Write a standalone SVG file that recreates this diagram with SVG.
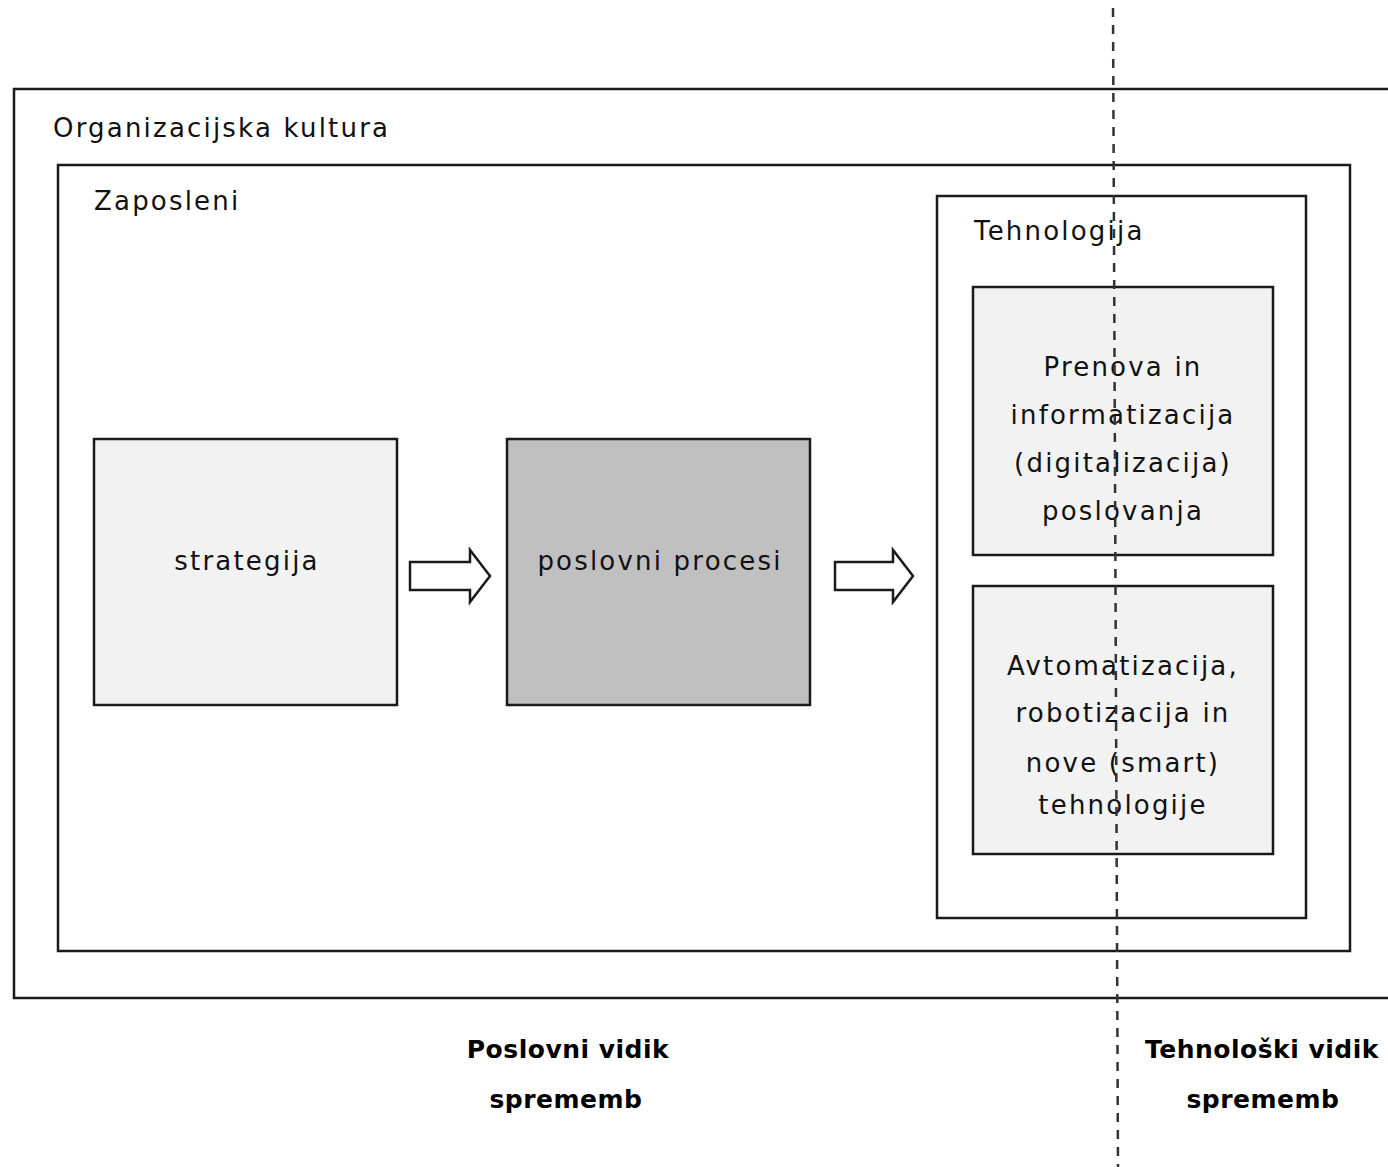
<svg xmlns="http://www.w3.org/2000/svg" width="1388" height="1167" viewBox="0 0 1388 1167">
<style>
.frame{fill:none;stroke:#1a1a1a;stroke-width:2.5}
.box{fill:#f2f2f2;stroke:#1a1a1a;stroke-width:2.5}
.dark{fill:#c0c0c0;stroke:#1a1a1a;stroke-width:2.5}
.arrow{fill:#fff;stroke:#1a1a1a;stroke-width:2.5;stroke-linejoin:miter}
.t{font-family:"DejaVu Sans","Liberation Sans",sans-serif;font-size:26px;fill:#111;letter-spacing:2.2px}
.c{text-anchor:middle}
.b{font-family:"DejaVu Sans","Liberation Sans",sans-serif;font-size:25px;font-weight:bold;fill:#000;text-anchor:middle;letter-spacing:0.5px}
</style>
<rect width="1388" height="1167" fill="#fff"/>
<g id="organizacijska-kultura">
<path class="frame" d="M1390 89 H14 V998 H1390"/>
<text class="t" x="53" y="137">Organizacijska kultura</text>
</g>
<g id="zaposleni">
<rect class="frame" x="58" y="165" width="1292" height="786"/>
<text class="t" x="94" y="210">Zaposleni</text>
</g>
<g id="tehnologija">
<rect class="frame" x="937" y="196" width="369" height="722"/>
<text class="t" x="974" y="240">Tehnologija</text>
</g>
<g id="strategija">
<rect class="box" x="94" y="439" width="303" height="266"/>
<text class="t c" x="247" y="570">strategija</text>
</g>
<g id="poslovni-procesi">
<rect class="dark" x="507" y="439" width="303" height="266"/>
<text class="t c" x="660" y="570">poslovni procesi</text>
</g>
<g id="prenova">
<rect class="box" x="973" y="287" width="300" height="268"/>
<text class="t c" x="1123" y="376">Prenova in</text>
<text class="t c" x="1123" y="424">informatizacija</text>
<text class="t c" x="1123" y="472">(digitalizacija)</text>
<text class="t c" x="1123" y="520">poslovanja</text>
</g>
<g id="avtomatizacija">
<rect class="box" x="973" y="586" width="300" height="268"/>
<text class="t c" x="1123" y="675">Avtomatizacija,</text>
<text class="t c" x="1123" y="722">robotizacija in</text>
<text class="t c" x="1123" y="772">nove (smart)</text>
<text class="t c" x="1123" y="814">tehnologije</text>
</g>
<g id="connectors">
<path class="arrow" d="M410 562 H470 V550 L490 576 L470 602 V590 H410 Z"/>
<path class="arrow" d="M835 562 H893 V550 L913 576 L893 602 V590 H835 Z"/>
<line x1="1113" y1="8" x2="1118" y2="1167" stroke="#333" stroke-width="2.5" stroke-dasharray="9 8"/>
</g>
<g id="labels">
<text class="b" x="568" y="1058">Poslovni  vidik</text>
<text class="b" x="566" y="1108">sprememb</text>
<text class="b" x="1262" y="1058">Tehnološki  vidik</text>
<text class="b" x="1263" y="1108">sprememb</text>
</g>
</svg>
